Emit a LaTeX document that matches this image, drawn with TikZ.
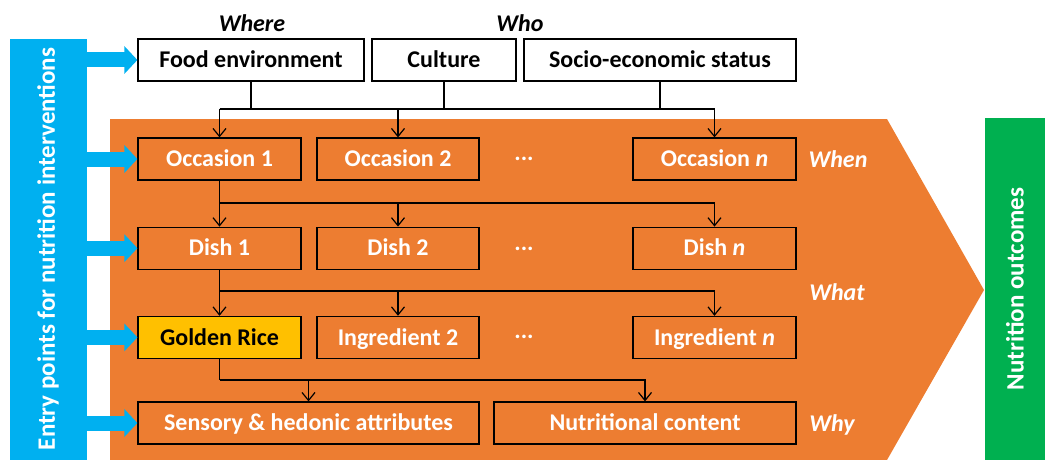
\documentclass[tikz,border=0pt]{standalone}
\usepackage{fontspec}
\setmainfont{Carlito}
\usepackage{xcolor}
\usepackage{tikz}
\usetikzlibrary{arrows.meta}
\usetikzlibrary{positioning}
\definecolor{orng}{HTML}{ED7D31}
\definecolor{entryblue}{HTML}{00B0F0}
\definecolor{outgreen}{HTML}{00B050}
\definecolor{gold}{HTML}{FFC000}

\begin{document}
\begin{tikzpicture}[x=1pt,y=-1pt,>={Straight Barb[length=8pt,width=13pt]},line width=1.2pt,node distance=46pt,font=\fontsize{24}{28}\selectfont\bfseries]
				\tikzstyle{box}=[draw=black, inner sep=0pt, minimum height=42pt, text height=15.5pt, text depth=0pt, text=white]
				\tikzstyle{topbox}=[box, fill=white, text=black]
				\tikzstyle{side}=[text=white, font=\fontsize{24}{28}\selectfont\bfseries\itshape]
				\tikzstyle{dots}=[text=white, anchor=base]
				\tikzstyle{entry}=[entryblue, line width=15pt, -{Triangle[length=13pt,width=27pt]}]
				\useasboundingbox (0,0) rectangle (1045,460);
				% background shapes
				\fill[orng] (110,119) -- (887,119) -- (984,290) -- (887,460) -- (110,460) -- cycle;
				\fill[entryblue] (10,39) rectangle (87,460);
				\fill[outgreen] (985,118) rectangle (1045,460);
				\node[rotate=90, text=white, font=\fontsize{25}{30}\selectfont\bfseries] (EP) at (48,249) {Entry points for nutrition interventions};
				\node[rotate=90, text=white, font=\fontsize{25}{30}\selectfont\bfseries] (NO) at (1015,289) {Nutrition outcomes};
				\coordinate (BE) at (87,0);
				% top row
					\node[topbox, minimum width=226pt] (FE) at (251,60) {Food environment};
					\node[topbox, minimum width=144pt] (CU) at (444,60) {Culture};
					\node[topbox, minimum width=272pt] (SE) at (660,60) {Socio-economic status};
					\node[font=\fontsize{24}{28}\selectfont\bfseries\itshape] (WH) at (252,23) {Where};
					\node[font=\fontsize{24}{28}\selectfont\bfseries\itshape] (WO) at (520,23) {Who};
				% occasions, dishes, ingredients
					\node[box, minimum width=163pt] (O1) at (219.5,159) {Occasion 1};
					\node[box, minimum width=162pt] (O2) at (398,159) {Occasion 2};
					\node[box, minimum width=163pt] (ON) at (714.5,159) {Occasion \textit{n}};
					\node[box, minimum width=163pt] (D1) [below=of O1] {Dish 1};
					\node[box, minimum width=162pt] (D2) [below=of O2] {Dish 2};
					\node[box, minimum width=163pt] (DN) [below=of ON] {Dish \textit{n}};
					\node[box, minimum width=163pt, fill=gold, text=black] (GR) [below=of D1] {Golden Rice};
					\node[box, minimum width=162pt] (I2) [below=of D2] {Ingredient 2};
					\node[box, minimum width=163pt] (IN) [below=of DN] {Ingredient \textit{n}};
					\node[box, minimum width=341pt] (SH) at (308.5,423) {Sensory \& hedonic attributes};
					\node[box, minimum width=302pt] (NC) at (645,423) {Nutritional content};
					\node[dots] (P1) at (524,160) {...};
					\node[dots] (P2) at (524,250) {...};
					\node[dots] (P3) at (524,338) {...};
					\node[side] (WN) at (838,159) {When};
					\node[side] (WT) at (837,292) {What};
					\node[side] (WY) at (832,425) {Why};
				% connectors
					\coordinate (J1) at (0,109);
					\coordinate (J2) at (0,203);
					\coordinate (J3) at (0,291);
					\coordinate (J4) at (0,380);
					\draw (FE.south) -- (FE.south |- J1);
					\draw (CU.south) -- (CU.south |- J1);
					\draw (SE.south) -- (SE.south |- J1);
					\draw[->] (O1.north |- J1) -- (O1.north);
					\draw[->] (O2.north |- J1) -- (O2.north);
					\draw[->] (O1.north |- J1) -| (ON.north);
					\draw (O1.south) -- (O1.south |- J2);
					\draw[->] (O1.south |- J2) -- (D1.north);
					\draw[->] (D2.north |- J2) -- (D2.north);
					\draw[->] (O1.south |- J2) -| (DN.north);
					\draw (D1.south) -- (D1.south |- J3);
					\draw[->] (D1.south |- J3) -- (GR.north);
					\draw[->] (I2.north |- J3) -- (I2.north);
					\draw[->] (D1.south |- J3) -| (IN.north);
					\draw (GR.south) -- (GR.south |- J4);
					\draw[->] (SH.north |- J4) -- (SH.north);
					\draw[->] (GR.south |- J4) -| (NC.north);
				% entry arrows
					\draw[entry] (BE |- FE.west) -- (FE.west);
					\draw[entry] (BE |- O1.west) -- (O1.west);
					\draw[entry] (BE |- D1.west) -- (D1.west);
					\draw[entry] (BE |- GR.west) -- (GR.west);
					\draw[entry] (BE |- SH.west) -- (SH.west);
\end{tikzpicture}
\end{document}
